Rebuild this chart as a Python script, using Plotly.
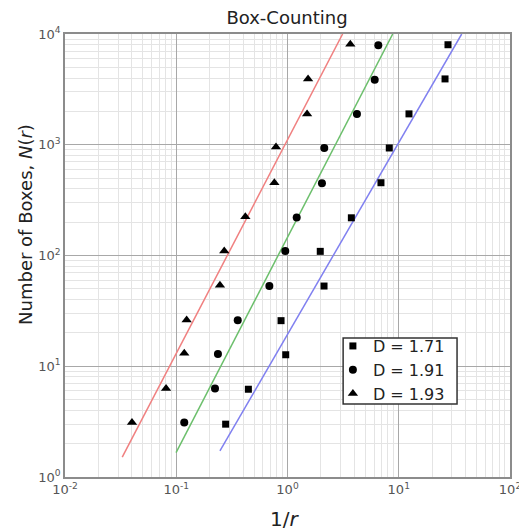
import plotly.graph_objects as go

# Data
tri_x = [0.040, 0.081, 0.118, 0.124, 0.247, 0.27, 0.418, 0.762, 0.788, 1.50, 1.53, 3.67]
tri_y = [3.1, 6.3, 13.1, 26.2, 54, 110, 224, 454, 955, 1900, 3930, 8070]
circ_x = [0.118, 0.223, 0.237, 0.357, 0.687, 0.955, 1.21, 2.04, 2.14, 4.21, 6.08, 6.55]
circ_y = [3.1, 6.3, 12.9, 26, 53, 110, 220, 450, 935, 1900, 3870, 7900]
sq_x = [0.278, 0.445, 0.964, 0.875, 2.13, 1.97, 3.75, 6.92, 8.22, 12.36, 26.06, 27.7]
sq_y = [3.0, 6.2, 12.7, 25.8, 53, 109, 219, 454, 935, 1900, 3930, 8000]

# Fitted lines (endpoints)
red_x = [0.0327, 3.13]
red_y = [1.51, 10000]
green_x = [0.0996, 8.83]
green_y = [1.66, 10000]
blue_x = [0.247, 36.8]
blue_y = [1.72, 10000]

labels = ["D = 1.71", "D = 1.91", "D = 1.93"]

x_tickvals = [0.01, 0.1, 1, 10, 100]
x_ticktext = ["10<sup>-2</sup>", "10<sup>-1</sup>", "10<sup>0</sup>", "10<sup>1</sup>", "10<sup>2</sup>"]
y_tickvals = [1, 10, 100, 1000, 10000]
y_ticktext = ["10<sup>0</sup>", "10<sup>1</sup>", "10<sup>2</sup>", "10<sup>3</sup>", "10<sup>4</sup>"]

fig = go.Figure()

fig.add_trace(go.Scatter(x=red_x, y=red_y, mode="lines",
                         line=dict(color="#f08080", width=1.5), showlegend=False))
fig.add_trace(go.Scatter(x=green_x, y=green_y, mode="lines",
                         line=dict(color="#6cbf6c", width=1.5), showlegend=False))
fig.add_trace(go.Scatter(x=blue_x, y=blue_y, mode="lines",
                         line=dict(color="#8080f0", width=1.5), showlegend=False))

fig.add_trace(go.Scatter(x=sq_x, y=sq_y, mode="markers", name=labels[0],
                         marker=dict(symbol="square", size=7, color="black")))
fig.add_trace(go.Scatter(x=circ_x, y=circ_y, mode="markers", name=labels[1],
                         marker=dict(symbol="circle", size=8, color="black")))
fig.add_trace(go.Scatter(x=tri_x, y=tri_y, mode="markers", name=labels[2],
                         marker=dict(symbol="triangle-up", size=9, color="black")))

axis_common = dict(
    type="log",
    showgrid=True,
    gridcolor="#a8a8a8",
    gridwidth=1,
    showline=True,
    linecolor="#8c8c8c",
    linewidth=1.5,
    mirror=True,
    ticks="",
    zeroline=False,
    automargin=False,
    tickfont=dict(size=13, color="#555555"),
    minor=dict(dtick="D1", showgrid=True, gridcolor="#e4e4e4", gridwidth=1),
)

# Legend frame
fig.add_shape(type="rect", xref="paper", yref="paper",
              x0=0.625, x1=0.881, y0=0.165, y1=0.314,
              fillcolor="white", line=dict(color="#333333", width=1.5), layer="above")

fig.update_layout(
    width=519, height=523,
    margin=dict(l=57, r=17, t=26, b=54),
    paper_bgcolor="white",
    plot_bgcolor="white",
    font=dict(family="DejaVu Sans", color="#222222"),
    title=dict(text="Box-Counting", x=0.5376, xanchor="center", y=0.981, yanchor="middle",
               font=dict(size=18, color="#222222"), automargin=False),
    xaxis=dict(axis_common, range=[-2, 2], tickvals=x_tickvals, ticktext=x_ticktext),
    yaxis=dict(axis_common, range=[0, 4], tickvals=y_tickvals, ticktext=y_ticktext),
    annotations=[
        dict(text="1/<i>r</i>", xref="paper", yref="paper", x=0.494, y=-0.0948,
             xanchor="center", yanchor="middle", showarrow=False,
             font=dict(size=20, color="#222222")),
        dict(text="Number of Boxes, <i>N</i>(<i>r</i>)", xref="paper", yref="paper",
             x=-0.0876, y=0.569, xanchor="center", yanchor="middle", textangle=-90,
             showarrow=False, font=dict(size=18, color="#222222")),
    ],
    legend=dict(x=0.602, y=0.334, xanchor="left", yanchor="top",
                bgcolor="rgba(0,0,0,0)", borderwidth=0,
                font=dict(size=16, color="#222222"),
                itemwidth=30, tracegroupgap=0),
)

fig.write_html("out.html")
